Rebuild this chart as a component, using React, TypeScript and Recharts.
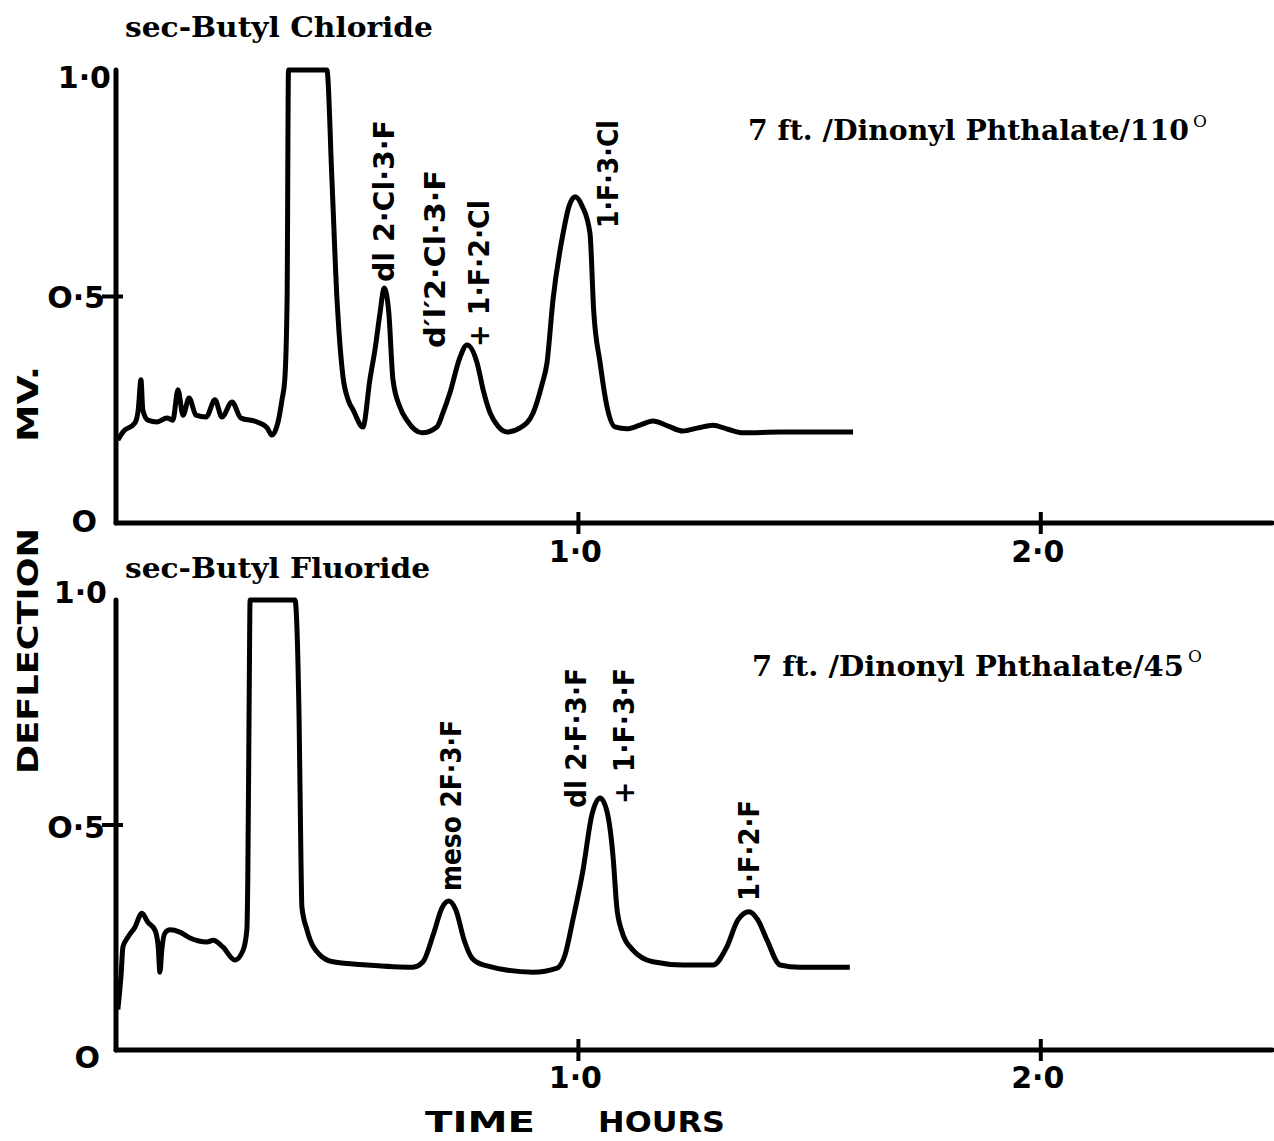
import React from "react";
import { LineChart, Line, XAxis, YAxis } from "recharts";

// sec-Butyl Chloride run: time (hours) vs detector deflection (fraction of full scale)
const chlorideTime = [
  0.004, 0.015, 0.041, 0.048, 0.054, 0.058, 0.069, 0.089, 0.11, 0.123, 0.134, 0.145, 0.158,
  0.173, 0.195, 0.214, 0.229, 0.251, 0.27, 0.305, 0.327, 0.337, 0.35, 0.359, 0.365, 0.37,
  0.373, 0.456, 0.467, 0.478, 0.482, 0.491, 0.502, 0.513, 0.534, 0.549, 0.561, 0.571, 0.58,
  0.59, 0.599, 0.614, 0.629, 0.662, 0.694, 0.707, 0.722, 0.744, 0.759, 0.781, 0.794, 0.809,
  0.826, 0.846, 0.874, 0.902, 0.921, 0.932, 0.945, 0.967, 0.98, 0.993, 1.008, 1.025, 1.033,
  1.047, 1.062, 1.079, 1.105, 1.133, 1.161, 1.194, 1.226, 1.259, 1.291, 1.323, 1.356, 1.436,
  1.594,
];
const chlorideMv = [
  0.183, 0.201, 0.221, 0.249, 0.316, 0.249, 0.227, 0.223, 0.232, 0.227, 0.294, 0.238, 0.276,
  0.238, 0.234, 0.272, 0.234, 0.267, 0.232, 0.223, 0.21, 0.194, 0.221, 0.272, 0.316, 0.492,
  1.0, 1.0, 0.757, 0.492, 0.426, 0.322, 0.272, 0.249, 0.212, 0.316, 0.389, 0.464, 0.519,
  0.464, 0.316, 0.256, 0.227, 0.199, 0.212, 0.243, 0.287, 0.366, 0.393, 0.353, 0.294, 0.243,
  0.214, 0.201, 0.21, 0.243, 0.305, 0.353, 0.492, 0.64, 0.7, 0.72, 0.7, 0.64, 0.47,
  0.353, 0.256, 0.212, 0.208, 0.216, 0.225, 0.214, 0.203, 0.21, 0.216, 0.207, 0.199, 0.201,
  0.201,
];

// sec-Butyl Fluoride run
const fluorideTime = [
  0.004, 0.011, 0.015, 0.026, 0.041, 0.056, 0.069, 0.084, 0.091, 0.095, 0.099, 0.106, 0.117,
  0.138, 0.16, 0.197, 0.21, 0.231, 0.257, 0.275, 0.283, 0.285, 0.288, 0.29, 0.387, 0.396,
  0.4, 0.402, 0.413, 0.441, 0.469, 0.543, 0.642, 0.664, 0.686, 0.705, 0.72, 0.735, 0.753,
  0.77, 0.794, 0.902, 0.954, 0.971, 0.988, 1.01, 1.029, 1.047, 1.062, 1.075, 1.083, 1.092,
  1.118, 1.161, 1.226, 1.291, 1.321, 1.345, 1.369, 1.388, 1.408, 1.436, 1.479, 1.587,
];
const fluorideMv = [
  0.09, 0.167, 0.229, 0.251, 0.273, 0.304, 0.284, 0.267, 0.233, 0.173, 0.222, 0.26, 0.267,
  0.262, 0.249, 0.24, 0.244, 0.229, 0.2, 0.222, 0.267, 0.378, 0.778, 1.0, 1.0, 0.733,
  0.422, 0.318, 0.267, 0.211, 0.196, 0.189, 0.184, 0.196, 0.256, 0.316, 0.331, 0.311, 0.244,
  0.204, 0.189, 0.173, 0.182, 0.211, 0.289, 0.4, 0.522, 0.56, 0.529, 0.429, 0.318, 0.27,
  0.222, 0.196, 0.189, 0.189, 0.229, 0.289, 0.307, 0.289, 0.244, 0.189, 0.184, 0.184,
];

const timeTicks = [1, 2];
const timeTickLabels = ["1·0", "2·0"];
const deflectionTicks = [0, 0.5, 1];
const deflectionTickLabels = ["O", "O·5", "1·0"];

const INK = "#000";
const SANS = "'DejaVu Sans', sans-serif";
const SERIF = "'DejaVu Serif', serif";
const WIDTH = 1274;

const toRows = (t: number[], v: number[]) => t.map((time, i) => ({ time, mv: v[i] }));

// per-panel nudges of the y tick labels: [end x offset, baseline offset]
type YOffsets = Record<string, [number, number]>;

function makeYTick(offsets: YOffsets) {
  return (props: any) => {
    const { x, y, payload } = props;
    const v = payload.value as number;
    const label = deflectionTickLabels[deflectionTicks.indexOf(v)];
    const [dx, dy] = offsets[String(v)];
    return (
      <g>
        {v === 0.5 && <line x1={x - 14} x2={x + 7} y1={y} y2={y} stroke={INK} strokeWidth={4} />}
        <text x={x + dx} y={y + dy} textAnchor="end" fontFamily={SANS} fontWeight="bold" fontSize={30} fill={INK}>
          {label}
        </text>
      </g>
    );
  };
}

function makeXTick(dy: number) {
  return (props: any) => {
    const { x, y, payload } = props;
    const label = timeTickLabels[timeTicks.indexOf(payload.value)];
    return (
      <g>
        <line x1={x} x2={x} y1={y - 11} y2={y + 11} stroke={INK} strokeWidth={4} />
        <text x={x - 3} y={y + dy} textAnchor="middle" fontFamily={SANS} fontWeight="bold" fontSize={30} fill={INK}>
          {label}
        </text>
      </g>
    );
  };
}

interface PanelProps {
  rows: { time: number; mv: number }[];
  top: number;
  height: number;
  marginTop: number;
  axisHeight: number;
  yOffsets: YOffsets;
  xLabelDy: number;
}

function Panel({ rows, top, height, marginTop, axisHeight, yOffsets, xLabelDy }: PanelProps) {
  return (
    <div style={{ position: "absolute", left: 0, top }}>
      <LineChart width={WIDTH} height={height} data={rows} margin={{ top: marginTop, right: 2, left: 0, bottom: 0 }}>
        <XAxis
          dataKey="time"
          type="number"
          domain={[0, 2.5]}
          ticks={timeTicks}
          interval={0}
          height={axisHeight}
          tickSize={0}
          tickMargin={0}
          tickLine={false}
          axisLine={{ stroke: INK, strokeWidth: 5, strokeLinecap: "round" }}
          tick={makeXTick(xLabelDy)}
        />
        <YAxis
          type="number"
          domain={[0, 1]}
          ticks={deflectionTicks}
          interval={0}
          width={116}
          tickSize={0}
          tickMargin={0}
          tickLine={false}
          axisLine={{ stroke: INK, strokeWidth: 5, strokeLinecap: "round" }}
          tick={makeYTick(yOffsets)}
        />
        <Line
          type="monotone"
          dataKey="mv"
          stroke={INK}
          strokeWidth={5}
          strokeLinejoin="round"
          dot={false}
          isAnimationActive={false}
        />
      </LineChart>
    </div>
  );
}

// vertical peak assignments, baseline on the right, reading upward
function PeakLabel({ x, y, len, text }: { x: number; y: number; len: number; text: string }) {
  return (
    <text
      transform={`translate(${x},${y}) rotate(-90)`}
      textLength={len}
      lengthAdjust="spacingAndGlyphs"
      fontFamily={SANS}
      fontWeight="bold"
      fontSize={28}
      fill={INK}
    >
      {text}
    </text>
  );
}

function Annotations() {
  const serif = { fontFamily: SERIF, fontWeight: "bold" as const, fontSize: 27, fill: INK };
  const caps = { fontFamily: SANS, fontWeight: "bold" as const, fontSize: 29, fill: INK };
  return (
    <svg
      width={WIDTH}
      height={1141}
      style={{ position: "absolute", left: 0, top: 0, pointerEvents: "none" }}
    >
      <text x={125} y={37} textLength={308} lengthAdjust="spacingAndGlyphs" {...serif}>sec-Butyl Chloride</text>
      <text x={748} y={140} textLength={441} lengthAdjust="spacingAndGlyphs" {...serif}>7 ft. /Dinonyl Phthalate/110</text>
      <text x={1193} y={127} {...serif} fontSize={17} fontWeight="normal">O</text>

      <text x={125} y={578} textLength={305} lengthAdjust="spacingAndGlyphs" {...serif}>sec-Butyl Fluoride</text>
      <text x={752} y={676} textLength={432} lengthAdjust="spacingAndGlyphs" {...serif}>7 ft. /Dinonyl Phthalate/45</text>
      <text x={1188} y={662} {...serif} fontSize={17} fontWeight="normal">O</text>

      <PeakLabel x={394} y={282} len={162} text="dl 2·Cl·3·F" />
      <PeakLabel x={445} y={348} len={178} text="d′l′2·Cl·3·F" />
      <PeakLabel x={489} y={347} len={147} text="+ 1·F·2·Cl" />
      <PeakLabel x={618} y={228} len={108} text="1·F·3·Cl" />

      <PeakLabel x={461} y={891} len={171} text="meso 2F·3·F" />
      <PeakLabel x={586} y={808} len={140} text="dl 2·F·3·F" />
      <PeakLabel x={634} y={804} len={136} text="+ 1·F·3·F" />
      <PeakLabel x={759} y={901} len={101} text="1·F·2·F" />

      <text transform="translate(38,442) rotate(-90)" textLength={76} lengthAdjust="spacingAndGlyphs" {...caps}>
        MV.
      </text>
      <text transform="translate(38,774) rotate(-90)" textLength={246} lengthAdjust="spacingAndGlyphs" {...caps}>
        DEFLECTION
      </text>

      <text x={425} y={1132} textLength={110} lengthAdjust="spacingAndGlyphs" {...caps}>
        TIME
      </text>
      <text x={598} y={1132} textLength={127} lengthAdjust="spacingAndGlyphs" {...caps}>
        HOURS
      </text>
    </svg>
  );
}

export default function App() {
  return (
    <div style={{ position: "absolute", left: 0, top: 0, width: WIDTH, height: 1141, background: "#fff" }}>
      <Panel
        rows={toRows(chlorideTime, chlorideMv)}
        top={0}
        height={585}
        marginTop={70}
        axisHeight={62}
        yOffsets={{ "1": [-5, 18], "0.5": [-11, 11], "0": [-19, 9] }}
        xLabelDy={39}
      />
      <Panel
        rows={toRows(fluorideTime, fluorideMv)}
        top={560}
        height={581}
        marginTop={40}
        axisHeight={91}
        yOffsets={{ "1": [-9, 3], "0.5": [-11, 13], "0": [-16, 18] }}
        xLabelDy={38}
      />
      <Annotations />
    </div>
  );
}
